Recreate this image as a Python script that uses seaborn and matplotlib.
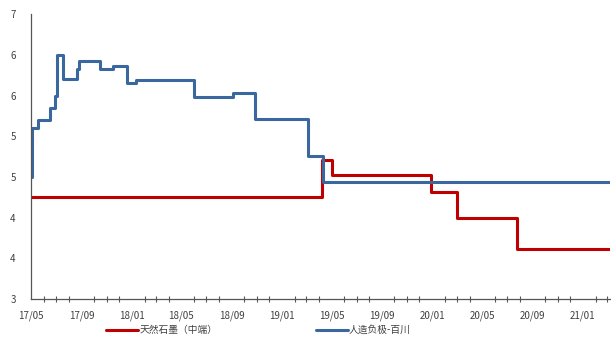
import pandas as pd
import seaborn as sns
import matplotlib.pyplot as plt
import matplotlib.dates as mdates
from matplotlib.ticker import FuncFormatter, MultipleLocator

# step series (date of change, new level)
natural_dates = ["2017-05-01", "2019-04-09", "2019-05-03", "2019-12-30",
                 "2020-03-01", "2020-07-25", "2021-03-10"]
natural_vals = [4.25, 4.71, 4.52, 4.31, 4.0, 3.61, 3.61]

artificial_dates = ["2017-05-01", "2017-05-04", "2017-05-18", "2017-06-16",
                    "2017-06-28", "2017-07-03", "2017-07-17", "2017-08-21",
                    "2017-08-26", "2017-10-16", "2017-11-17", "2017-12-20",
                    "2018-01-10", "2018-05-31", "2018-09-03", "2018-10-27",
                    "2019-03-05", "2019-04-11", "2021-03-10"]
artificial_vals = [4.5, 5.1, 5.2, 5.35, 5.5, 6.0, 5.7, 5.83, 5.92, 5.83,
                   5.86, 5.65, 5.69, 5.48, 5.53, 5.21, 4.76, 4.44, 4.44]

series_names = ["天然石墨（中端）", "人造负极-百川"]
colors = ["#C00000", "#3A679E"]

df = pd.concat([
    pd.DataFrame({"date": pd.to_datetime(natural_dates), "value": natural_vals,
                  "series": series_names[0]}),
    pd.DataFrame({"date": pd.to_datetime(artificial_dates), "value": artificial_vals,
                  "series": series_names[1]}),
])

sns.set_style("white")
plt.rcParams["font.family"] = ["Noto Sans CJK SC", "DejaVu Sans"]

fig = plt.figure(figsize=(6.11, 3.43), dpi=100)
ax = fig.add_axes([0.0507, 0.128, 0.947, 0.831])

sns.lineplot(data=df, x="date", y="value", hue="series", hue_order=series_names,
             palette=colors, drawstyle="steps-post", linewidth=2.2, ax=ax)

ax.set_xlim(pd.Timestamp("2017-05-01"), pd.Timestamp("2021-03-07"))
ax.set_ylim(3, 6.5)
ax.yaxis.set_major_locator(MultipleLocator(0.5))
# labels rounded half up to whole numbers, like the source
ax.yaxis.set_major_formatter(FuncFormatter(lambda v, p: f"{int(v + 0.5)}"))
ax.xaxis.set_major_locator(mdates.MonthLocator(bymonth=[1, 5, 9]))
ax.xaxis.set_minor_locator(mdates.MonthLocator())
ax.xaxis.set_major_formatter(mdates.DateFormatter("%y/%m"))

ax.set_xlabel("")
ax.set_ylabel("")
for side in ["top", "right"]:
    ax.spines[side].set_visible(False)
for side in ["left", "bottom"]:
    ax.spines[side].set_color("#555555")
    ax.spines[side].set_linewidth(0.9)

ax.tick_params(axis="x", which="both", direction="inout", length=4, width=0.8,
               color="#555555", labelsize=7, labelcolor="#404040", pad=6)
ax.tick_params(axis="y", direction="out", length=3, width=0.8, color="#555555",
               labelsize=7, labelcolor="#404040", pad=8)
ax.tick_params(axis="x", which="minor", bottom=True)

ax.legend(loc="center", bbox_to_anchor=(0.423, 0.038), bbox_transform=fig.transFigure,
          ncol=2, frameon=False, fontsize=7, handlelength=3.3, handletextpad=0.1,
          columnspacing=10.1, labelcolor="#404040")

fig.savefig("out.png", dpi=100)
